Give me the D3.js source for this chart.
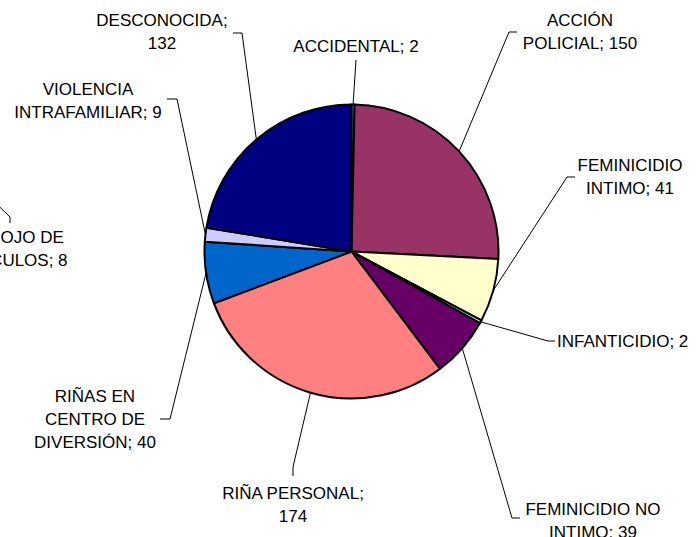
<!DOCTYPE html>
<html>
<head>
<meta charset="utf-8">
<script src="https://cdn.jsdelivr.net/npm/d3@7"></script>
<style>
  body { margin: 0; background: #fff; }
  text { font-family: "Liberation Sans", Arial, sans-serif; font-size: 17px; fill: #000; }
</style>
</head>
<body>
<script>
var svg_width = 700;
var svg_height = 537;

// clockwise from 12 o'clock
var categories = ["ACCIDENTAL", "ACCIÓN POLICIAL", "FEMINICIDIO INTIMO", "INFANTICIDIO",
                  "FEMINICIDIO NO INTIMO", "RIÑA PERSONAL", "RIÑAS EN CENTRO DE DIVERSIÓN",
                  "DESPOJO DE VEHÍCULOS", "VIOLENCIA INTRAFAMILIAR", "DESCONOCIDA"];
var values = [2, 150, 41, 2, 39, 174, 40, 8, 9, 132];
// the source labels DESPOJO but draws no slice for it
var plotted = [true, true, true, true, true, true, true, false, true, true];

var colors = ["#9999FF", "#993366", "#FFFFCC", "#CCFFFF", "#660066",
              "#FF8080", "#0066CC", "none", "#CCCCFF", "#000080"];

// label placement: x, first baseline, anchor, words per line, leader elbow points
var labelLayout = [
  {x: 356, y: 52, anchor: "middle", lines: [2], leader: [[356, 60]]},
  {x: 580, y: 26, anchor: "middle", lines: [1, 2], leader: [[509, 32], [517, 32]]},
  {x: 630, y: 171, anchor: "middle", lines: [1, 2], leader: [[567, 177], [575, 177]]},
  {x: 557, y: 347, anchor: "start", lines: [2], leader: [[548, 341], [555, 341]]},
  {x: 593, y: 515, anchor: "middle", lines: [2, 2], leader: [[512, 518], [520, 518]]},
  {x: 293, y: 499, anchor: "middle", lines: [2, 1], leader: [[293, 467], [293, 476]]},
  {x: 95, y: 402, anchor: "middle", lines: [2, 2, 2], leader: [[170, 419], [160, 419]]},
  {x: 9, y: 243, anchor: "middle", lines: [2, 2], leader: [[-30, 178], [10, 217], [10, 223]]},
  {x: 88, y: 95, anchor: "middle", lines: [1, 2], leader: [[177, 99], [167, 99]]},
  {x: 162, y: 26, anchor: "middle", lines: [1, 1], leader: [[242, 33], [233, 33]]}
];

var cx = 351.5, cy = 251.5, radius = 147;
var lineHeight = 22.8;

var svg = d3.select('body').append('svg')
            .attr('width', svg_width)
            .attr('height', svg_height);

var data = categories.map(function(c, i) {
  return {name: c, value: values[i], color: colors[i], plotted: plotted[i], layout: labelLayout[i]};
});

var pie = d3.pie().sort(null).value(function(d) { return d.value; });
var arcs = pie(data.filter(function(d) { return d.plotted; }));

var arc = d3.arc().innerRadius(0).outerRadius(radius);
var rimArc = d3.arc().innerRadius(radius).outerRadius(radius);

var g = svg.append('g').attr('transform', 'translate(' + cx + ',' + cy + ')');

g.selectAll('path.slice')
  .data(arcs)
  .enter().append('path')
  .attr('class', 'slice')
  .attr('d', arc)
  .attr('fill', function(d) { return d.data.color; })
  .attr('stroke', '#000')
  .attr('stroke-width', 2)
  .attr('stroke-linejoin', 'round');

// leader lines
var line = d3.line();
data.forEach(function(d) {
  var pts = [];
  if (d.plotted) {
    var a = arcs.find(function(s) { return s.data === d; });
    var c = rimArc.centroid(a);
    pts.push([c[0] + cx, c[1] + cy]);
  }
  pts = pts.concat(d.layout.leader);
  svg.append('path')
    .attr('d', line(pts))
    .attr('fill', 'none')
    .attr('stroke', '#000')
    .attr('stroke-width', 1);
});

// labels
data.forEach(function(d) {
  var words = (d.name + '; ' + d.value).split(' ');
  var t = svg.append('text')
    .attr('text-anchor', d.layout.anchor);
  var k = 0;
  d.layout.lines.forEach(function(n, li) {
    t.append('tspan')
      .attr('x', d.layout.x)
      .attr('y', d.layout.y + li * lineHeight)
      .text(words.slice(k, k + n).join(' '));
    k += n;
  });
});
</script>
</body>
</html>
